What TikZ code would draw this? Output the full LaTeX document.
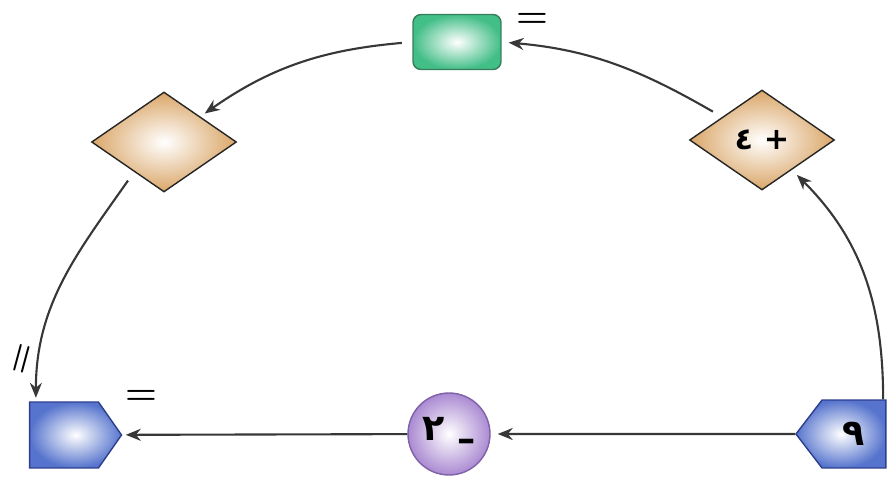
\documentclass[tikz,border=0pt]{standalone}
\usepackage{fontspec}
\newfontfamily\arabicfont[Script=Arabic]{DejaVu Sans}
\TeXXeTstate=1
\usetikzlibrary{arrows.meta,shapes.geometric,shapes.symbols}
\definecolor{boxG}{RGB}{66,190,135}
\definecolor{boxGd}{RGB}{55,125,90}
\definecolor{tanD}{RGB}{218,166,104}
\definecolor{penB}{RGB}{86,116,205}
\definecolor{penBd}{RGB}{45,62,140}
\definecolor{ballP}{RGB}{170,138,210}
\definecolor{ballPd}{RGB}{128,98,168}
\definecolor{arrK}{RGB}{55,55,55}

\begin{document}
\begin{tikzpicture}[
  x=0.02cm, y=0.02cm,
  resbox/.style={rectangle, rounded corners=1.6mm, draw=boxGd, thick, shading=radial, inner color=white, outer color=boxG, minimum width=1.76cm, minimum height=1.1cm},
  opdiam/.style={diamond, draw=black!85, thick, shading=radial, inner color=white, outer color=tanD, minimum width=2.9cm, minimum height=2cm, inner sep=0pt, font=\arabicfont\LARGE\bfseries},
  inpen/.style={signal, signal to=west, signal pointer angle=105, draw=penBd, thick, shading=radial, inner color=white, outer color=penB, minimum width=1.8cm, minimum height=1.36cm, inner sep=0pt, font=\arabicfont\huge\bfseries},
  outpen/.style={signal, signal to=east, signal pointer angle=110, draw=penBd, thick, shading=radial, inner color=white, outer color=penB, minimum width=1.84cm, minimum height=1.32cm, inner sep=0pt},
  opball/.style={circle, draw=ballPd, thick, shading=radial, inner color=white, outer color=ballP, minimum size=1.64cm, inner sep=0pt, font=\arabicfont\huge\bfseries},
  eqsign/.style={font=\huge\bfseries, inner sep=0pt},
  flow/.style={draw=arrK, line width=1.2pt, -{Stealth[length=3mm, width=2.4mm]}}]

  \useasboundingbox (0,0) rectangle (894,477);

  % bottom row: start, operation, result
  \node[inpen] (start) at (854,43) {\beginR ٩\endR};
  \node[opball] (sub) at (449,43) {\beginR\raisebox{-.3em}{–} ٢\endR};
  \node[outpen] (res2) at (64,42) {};
  \node[eqsign] (eqb) at (141,80) {=};
  \node[eqsign, rotate=75] (eqv) at (24,118) {=};

  % top half of the loop
  \node[opdiam] (add) at (762,337) {\beginR + ٤\endR};
  \node[resbox] (res1) at (457,435) {};
  \node[eqsign] (eqt) at (532,457) {=};
  \node[opdiam] (blank) at (164,335) {};

  % straight arrows along the bottom
  \draw[flow, shorten >=4pt] (start) -- (sub);
  \draw[flow, shorten >=2pt] (sub) -- (res2);

  % curved arrows round the arc
  \draw[flow, shorten >=4pt] ([xshift=-2pt]start.north east) to[out=90, in=-45] (add);
  \draw[flow, shorten <=6pt, shorten >=4pt] (add.150) to[out=150, in=-5] (res1.east);
  \draw[flow, shorten <=6pt, shorten >=3pt] (res1.west) to[out=185, in=35] (blank);
  \draw[flow, shorten <=6pt, shorten >=2pt] (blank.225) to[out=235, in=90] ([xshift=4pt]res2.north west);
\end{tikzpicture}
\end{document}
